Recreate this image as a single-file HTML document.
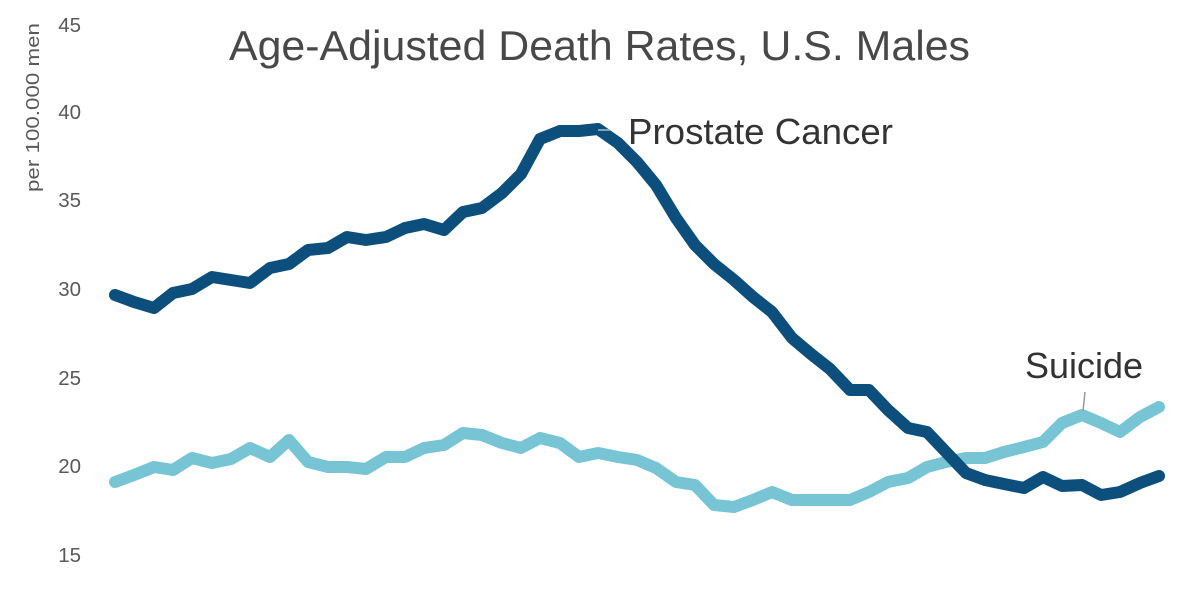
<!DOCTYPE html>
<html><head><meta charset="utf-8"><style>
html,body{margin:0;padding:0;background:#fff;}
svg{display:block;}
</style></head><body>
<svg width="1200" height="600" viewBox="0 0 1200 600" xmlns="http://www.w3.org/2000/svg">
<rect width="1200" height="600" fill="#fff"/>
<text x="229" y="60" font-family="Liberation Sans, sans-serif" font-size="42" fill="#484848" textLength="741" lengthAdjust="spacingAndGlyphs">Age-Adjusted Death Rates, U.S. Males</text>
<g font-family="Liberation Sans, sans-serif" font-size="20.5" fill="#595959" text-anchor="end">
<text x="81" y="32">45</text>
<text x="81" y="119">40</text>
<text x="81" y="207">35</text>
<text x="81" y="296">30</text>
<text x="81" y="385">25</text>
<text x="81" y="473">20</text>
<text x="81" y="562">15</text>
</g>
<text transform="translate(39,192) rotate(-90)" x="0" y="0" font-family="Liberation Sans, sans-serif" font-size="18" fill="#595959" textLength="169" lengthAdjust="spacingAndGlyphs">per 100.000 men</text>
<polyline fill="none" stroke="#77C4D5" stroke-width="12" stroke-linejoin="round" stroke-linecap="round" points="115,482 134,475 154,467 173,470 192,458 212,463 231,459 250,448 270,457 289,440 308,462 328,467 347,467 366,469 386,457 405,457 424,448 444,445 463,433 482,435 502,443 521,448 540,438 560,443 579,457 598,453 618,457 637,460 656,468 676,482 695,485 714,505 734,507 753,500 772,492 792,500 811,500 830,500 850,500 869,492 888,482 908,478 927,467 946,462 966,458 985,458 1004,452 1024,447 1043,442 1062,423 1082,415 1101,423 1120,432 1140,417 1159,407"/>
<polyline fill="none" stroke="#0C4F7D" stroke-width="12" stroke-linejoin="round" stroke-linecap="round" points="115,295 134,302 154,308 173,293 192,289 212,277 231,280 250,283 270,268 289,264 308,250 328,248 347,237 366,240 386,237 405,228 424,224 444,230 463,212 482,208 502,193 521,174 540,139 560,131 579,131 598,129 618,143 637,162 656,185 676,218 695,245 714,264 734,280 753,297 772,312 792,338 811,354 830,369 850,390 869,390 888,410 908,428 927,432 946,452 966,473 985,480 1004,484 1024,488 1043,477 1062,486 1082,485 1101,495 1120,492 1140,483 1159,476"/>
<line x1="598" y1="130" x2="610" y2="130" stroke="#a9bccb" stroke-width="1.5"/>
<line x1="1085" y1="392" x2="1083" y2="411" stroke="#9a9a9a" stroke-width="1.5"/>
<text x="628" y="144" font-family="Liberation Sans, sans-serif" font-size="36" fill="#333333" textLength="265" lengthAdjust="spacingAndGlyphs">Prostate Cancer</text>
<text x="1025" y="378" font-family="Liberation Sans, sans-serif" font-size="36" fill="#333333" textLength="118" lengthAdjust="spacingAndGlyphs">Suicide</text>
</svg>
</body></html>
